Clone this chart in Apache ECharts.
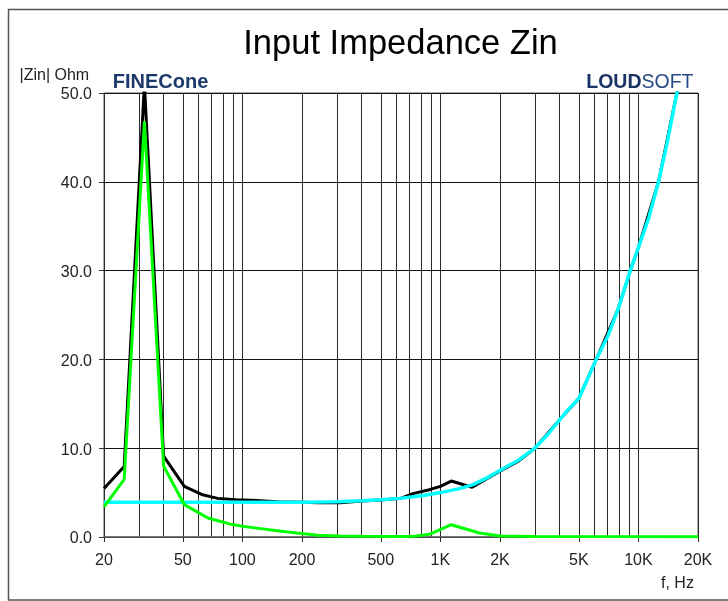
<!DOCTYPE html>
<html>
<head>
<meta charset="utf-8">
<title>Input Impedance Zin</title>
<script src="https://cdn.jsdelivr.net/npm/echarts@6/dist/echarts.min.js"></script>
<style>
  html, body { margin: 0; padding: 0; background: #ffffff; }
  #chart { width: 728px; height: 601px; }
</style>
</head>
<body>
<div id="chart"></div>
<script>
// Total input impedance |Zin| (black)
const freqTotal = [20, 25.3, 32, 40, 50.9, 63, 75, 93, 118, 150, 200, 240, 312, 400, 500, 630, 726, 880, 1000, 1134, 1446, 1700, 2000, 2500, 3000, 4000, 5000, 6125, 7878, 9100, 10000, 12640, 15640, 20000];
const zTotal    = [5.45, 7.95, 51, 9.1, 5.7, 4.75, 4.35, 4.2, 4.12, 3.97, 3.92, 3.86, 3.86, 4.05, 4.18, 4.35, 4.88, 5.33, 5.7, 6.3, 5.6, 6.5, 7.4, 8.6, 10.0, 13.2, 15.6, 20, 25.6, 30, 32.6, 40, 50, 62];

// Blocked (electrical) impedance (cyan)
const freqBlocked = [20, 100, 200, 300, 400, 500, 622, 806, 1000, 1250, 1460, 1700, 2000, 2500, 3000, 3500, 4000, 4320, 5000, 6125, 7000, 7878, 9100, 10000, 11300, 12640, 14000, 15640, 20000];
const zBlocked    = [3.9, 3.9, 3.92, 3.97, 4.07, 4.2, 4.35, 4.65, 5.0, 5.45, 5.9, 6.6, 7.5, 8.7, 10.0, 11.6, 13.2, 14.1, 15.6, 20, 22.6, 25.6, 30, 32.6, 36, 40, 44.5, 50, 62];

// Motional impedance (green)
const freqMotional = [20, 25.3, 32, 40, 50.9, 67, 87, 100, 118, 150, 188, 241, 312, 400, 600, 726, 880, 1134, 1577, 2000, 3000, 20000];
const zMotional    = [3.38, 6.5, 46.8, 8.0, 3.64, 2.14, 1.45, 1.2, 1.0, 0.7, 0.45, 0.2, 0.12, 0.08, 0.06, 0.07, 0.3, 1.38, 0.45, 0.12, 0.05, 0.03];

// Axis ticks and grid
const gridFreqs = [20, 30, 40, 50, 60, 70, 80, 90, 100, 200, 300, 400, 500, 600, 700, 800, 900,
                   1000, 2000, 3000, 4000, 5000, 6000, 7000, 8000, 9000, 10000, 20000];
const freqLabels = [20, 50, 100, 200, 500, 1000, 2000, 5000, 10000, 20000];
const yMin = 0, yMax = 50, yStep = 10;

const FONT = '"Liberation Sans", Arial, sans-serif';
const pairs = (xs, ys) => xs.map((x, i) => [x, ys[i]]);
const fmtFreq = v => (v >= 1000 ? (v / 1000) + 'K' : String(v));

const chart = echarts.init(document.getElementById('chart'), null, { renderer: 'canvas' });

chart.setOption({
  animation: false,
  backgroundColor: '#ffffff',
  grid: {
    left: 104, top: 93, width: 594, height: 444,
    show: true, borderColor: '#555', borderWidth: 1, backgroundColor: 'transparent'
  },
  xAxis: [
    {
      // grid lines on every 1-2-3..9 decade step
      type: 'log', logBase: 10, min: 20, max: 20000, position: 'bottom',
      axisLine: { show: false },
      axisTick: { show: false, customValues: gridFreqs },
      axisLabel: { show: false },
      splitLine: { show: true, lineStyle: { color: '#2a2a2a', width: 1 } }
    },
    {
      // labelled frequencies
      type: 'log', logBase: 10, min: 20, max: 20000, position: 'bottom',
      axisLine: { show: true, lineStyle: { color: '#666', width: 1.5 } },
      axisTick: { show: true, length: 5, customValues: freqLabels, lineStyle: { color: '#333' } },
      axisLabel: {
        show: true, customValues: freqLabels, formatter: fmtFreq, margin: 16,
        fontFamily: FONT, fontSize: 16, color: '#222'
      },
      splitLine: { show: false }
    }
  ],
  yAxis: {
    type: 'value', min: yMin, max: yMax, interval: yStep,
    axisLine: { show: false },
    axisTick: { show: true, length: 5, lineStyle: { color: '#333' } },
    axisLabel: {
      formatter: v => v.toFixed(1), margin: 12,
      verticalAlign: 'top', lineHeight: 4,
      fontFamily: FONT, fontSize: 16, color: '#222'
    },
    splitLine: { show: true, lineStyle: { color: '#111', width: 1 } }
  },
  series: [
    {
      name: '|Zin|', type: 'line', xAxisIndex: 0, data: pairs(freqTotal, zTotal),
      symbol: 'none', clip: true, lineStyle: { color: '#000000', width: 3 }, z: 3
    },
    {
      name: 'Blocked', type: 'line', xAxisIndex: 0, data: pairs(freqBlocked, zBlocked),
      symbol: 'none', clip: true, lineStyle: { color: '#00ffff', width: 3.5 }, z: 4
    },
    {
      name: 'Motional', type: 'line', xAxisIndex: 0, data: pairs(freqMotional, zMotional),
      symbol: 'none', clip: true, lineStyle: { color: '#00ff00', width: 3 }, z: 5
    }
  ],
  graphic: [
    {
      type: 'rect', z: 0, silent: true,
      shape: { x: 8.5, y: 9.5, width: 730, height: 590.5 },
      style: { fill: 'none', stroke: '#555', lineWidth: 1.5 }
    },
    {
      type: 'text', x: 400.5, y: 44.8, silent: true,
      style: { text: 'Input Impedance Zin', font: '34.5px ' + FONT, fill: '#000', align: 'center', verticalAlign: 'middle' }
    },
    {
      type: 'text', x: 19.5, y: 76, silent: true,
      style: { text: '|Zin| Ohm', font: '16px ' + FONT, fill: '#222', align: 'left', verticalAlign: 'middle' }
    },
    {
      type: 'text', x: 112.7, y: 82, silent: true,
      style: { text: 'FINECone', font: 'bold 20px ' + FONT, fill: '#1b3a6b', align: 'left', verticalAlign: 'middle' }
    },
    {
      type: 'text', x: 693.5, y: 82.5, silent: true,
      style: {
        text: '{a|LOUD}{b|SOFT}', align: 'right', verticalAlign: 'middle',
        rich: {
          a: { fontFamily: FONT, fontSize: 19.5, fontWeight: 'bold', fill: '#1a3366' },
          b: { fontFamily: FONT, fontSize: 19.5, fontWeight: 'normal', fill: '#264b85' }
        }
      }
    },
    {
      type: 'text', x: 661, y: 584, silent: true,
      style: { text: 'f, Hz', font: '16px ' + FONT, fill: '#222', align: 'left', verticalAlign: 'middle' }
    }
  ]
});
</script>
</body>
</html>
